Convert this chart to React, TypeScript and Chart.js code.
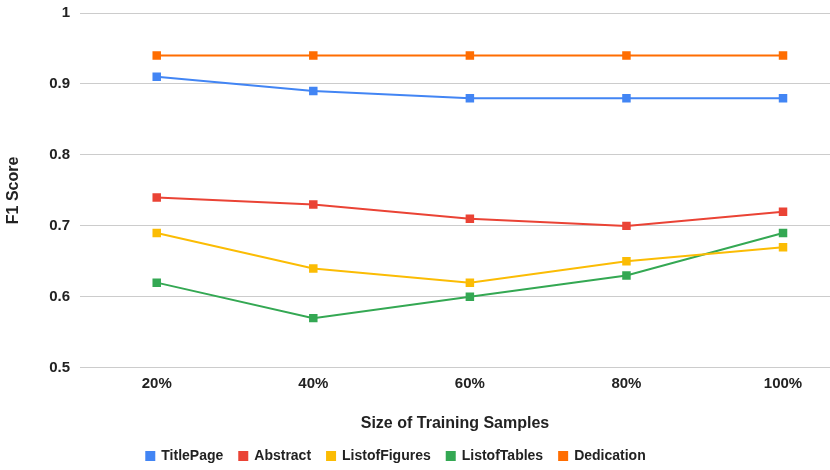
import { useEffect, useRef } from 'react'
import Chart from 'chart.js/auto'

const categories = ['20%', '40%', '60%', '80%', '100%']
const titlePage = [0.91, 0.89, 0.88, 0.88, 0.88]
const abstractScores = [0.74, 0.73, 0.71, 0.7, 0.72]
const listOfFigures = [0.69, 0.64, 0.62, 0.65, 0.67]
const listOfTables = [0.62, 0.57, 0.6, 0.63, 0.69]
const dedication = [0.94, 0.94, 0.94, 0.94, 0.94]

const series = [
  { label: 'TitlePage', data: titlePage, color: '#4285F4' },
  { label: 'Abstract', data: abstractScores, color: '#EA4335' },
  { label: 'ListofFigures', data: listOfFigures, color: '#FBBC04' },
  { label: 'ListofTables', data: listOfTables, color: '#34A853' },
  { label: 'Dedication', data: dedication, color: '#FF6D01' },
]

const FONT = 'Arial, "Liberation Sans", sans-serif'

// the sheet's legend sits a little left of the canvas centre
const legendShift = {
  id: 'legendShift',
  afterLayout(chart: Chart) {
    if (chart.legend) chart.legend.left -= 44
  },
}

export default function App() {
  const chartRef = useRef<HTMLCanvasElement>(null)
  const chartInstance = useRef<Chart | null>(null)

  useEffect(() => {
    if (!chartRef.current) return
    const ctx = chartRef.current.getContext('2d')
    if (!ctx) return

    if (chartInstance.current) chartInstance.current.destroy()

    chartInstance.current = new Chart(ctx, {
      type: 'line',
      data: {
        datasets: series.map((s) => ({
          label: s.label,
          data: s.data.map((y, i) => ({ x: i, y })),
          borderColor: s.color,
          backgroundColor: s.color,
          borderWidth: 2,
          pointStyle: 'rect',
          pointRadius: 6,
          pointBorderWidth: 0,
          tension: 0,
        })),
      },
      plugins: [legendShift],
      options: {
        responsive: true,
        maintainAspectRatio: false,
        animation: false,
        layout: { padding: 0 },
        plugins: {
          tooltip: { enabled: false },
          legend: {
            position: 'bottom',
            labels: {
              boxWidth: 8,
              boxHeight: 8,
              padding: 16,
              color: '#222',
              font: { family: FONT, size: 14, weight: 'bold' },
            },
          },
        },
        scales: {
          x: {
            type: 'linear',
            min: -0.49,
            max: 4.3,
            grid: { display: false, drawTicks: false },
            border: { display: false },
            afterBuildTicks: (axis) => {
              axis.ticks = categories.map((_, i) => ({ value: i }))
            },
            ticks: {
              color: '#222',
              padding: 7,
              font: { family: FONT, size: 15, weight: 'bold' },
              callback: (v) => categories[Number(v)] ?? '',
            },
            title: {
              display: true,
              text: 'Size of Training Samples',
              color: '#222',
              padding: { top: 14, bottom: 0 },
              font: { family: FONT, size: 16, weight: 'bold' },
            },
          },
          y: {
            min: 0.5,
            max: 1,
            afterFit: (axis) => {
              axis.width = 80
            },
            grid: { color: '#cccccc', lineWidth: 1, drawTicks: false },
            border: { display: false },
            ticks: {
              stepSize: 0.1,
              padding: 10,
              color: '#222',
              font: { family: FONT, size: 15, weight: 'bold' },
              callback: (v) => String(Math.round(Number(v) * 10) / 10),
            },
            title: {
              display: true,
              text: 'F1 Score',
              color: '#222',
              padding: { top: 4, bottom: 0 },
              font: { family: FONT, size: 16, weight: 'bold' },
            },
          },
        },
      },
    })

    return () => {
      if (chartInstance.current) {
        chartInstance.current.destroy()
        chartInstance.current = null
      }
    }
  }, [])

  return (
    <div style={{ position: 'absolute', left: 0, top: 0, width: 830, height: 470, overflow: 'hidden', background: '#fff' }}>
      <div style={{ position: 'absolute', left: 0, top: -6, width: 836, height: 479 }}>
        <canvas ref={chartRef} />
      </div>
    </div>
  )
}
